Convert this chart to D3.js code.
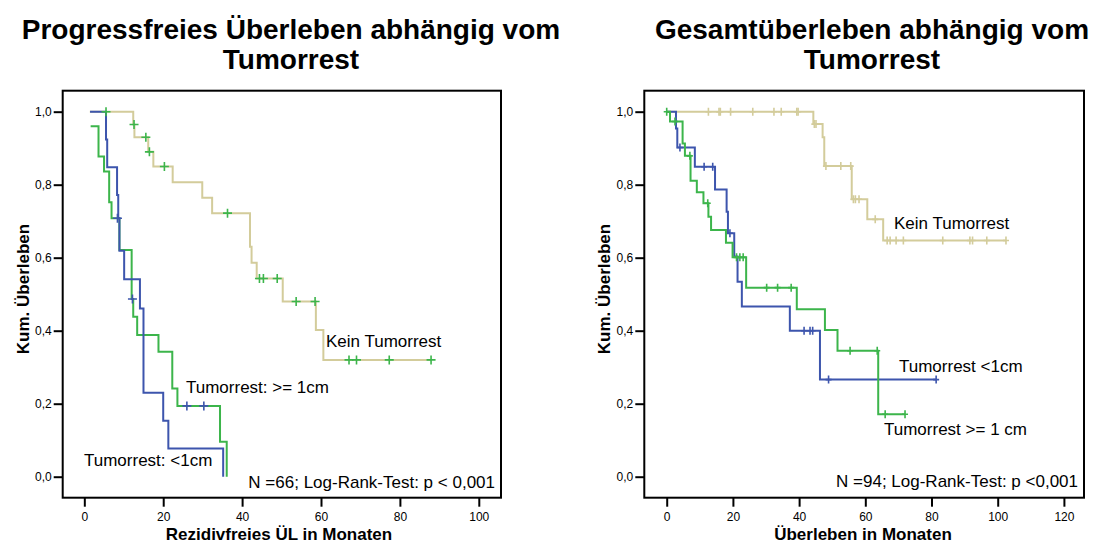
<!DOCTYPE html>
<html>
<head>
<meta charset="utf-8">
<script src="https://cdn.jsdelivr.net/npm/d3@7"></script>
<style>
  html, body { margin: 0; padding: 0; background: #fff; }
  svg { display: block; }
  text { font-family: "Liberation Sans", Arial, sans-serif; fill: #000; }
</style>
</head>
<body>
<svg id="chart" width="1093" height="544"></svg>
<script>
// Kaplan-Meier step points: [month, cumulative survival after that month]
// Progression-free survival by residual tumour
const pfsKeinSteps = [[1.4,1.0],[12.4,0.965],[12.7,0.93],[16.2,0.89],[17.5,0.85],[22.4,0.807],[29.9,0.764],[32.4,0.722],[42.0,0.63],[42.4,0.586],[43.7,0.543],[50.3,0.48],[58.7,0.402],[60.6,0.32],[87.9,0.32]];
const pfsKeinCensor = [[12.6,0.965],[15.6,0.93],[16.5,0.89],[20.3,0.85],[36.3,0.722],[44.4,0.543],[45.4,0.543],[48.9,0.543],[53.7,0.48],[58.5,0.48],[67.1,0.32],[69.0,0.32],[77.3,0.32],[87.9,0.32]];
const pfsSmallSteps = [[1.45,1.0],[5.5,0.924],[5.8,0.848],[8.3,0.772],[8.6,0.708],[8.9,0.619],[10.1,0.541],[14.1,0.461],[15.0,0.23],[20.0,0.153],[21.3,0.077],[35.2,0.0]];
const pfsSmallCensor = [[5.5,1.0]];
const pfsLargeSteps = [[1.6,0.96],[3.6,0.877],[5.0,0.836],[6.3,0.752],[6.9,0.708],[8.9,0.621],[12.0,0.487],[12.4,0.438],[13.4,0.388],[18.8,0.342],[22.3,0.242],[23.6,0.194],[34.4,0.096],[36.1,0.0]];
const pfsLargeCensor = [[8.4,0.708],[12.2,0.487],[26.0,0.194],[30.3,0.194]];

// Overall survival by residual tumour
const osKeinSteps = [[0,1.0],[44.3,0.966],[47.1,0.93],[47.6,0.851],[55.9,0.76],[60.6,0.705],[65.4,0.647],[102.5,0.647]];
const osKeinCensor = [[12.6,1],[15.8,1],[16.2,1],[19.3,1],[26.0,1],[32.4,1],[34.6,1],[39.3,1],[39.7,1],[44.6,0.966],[45.1,0.966],[48.1,0.851],[52.6,0.851],[55.6,0.851],[56.4,0.76],[57.0,0.76],[58.1,0.76],[63.0,0.705],[66.6,0.647],[67.5,0.647],[69.3,0.647],[71.5,0.647],[83.4,0.647],[91.6,0.647],[92.4,0.647],[96.7,0.647],[102.5,0.647]];
const osSmallSteps = [[0,1.0],[2.8,0.954],[3.2,0.902],[8.5,0.849],[14.6,0.787],[18.1,0.726],[18.5,0.667],[20.4,0.603],[21.4,0.534],[22.7,0.466],[37.2,0.4],[46.3,0.266],[81.4,0.266]];
const osSmallCensor = [[4.0,0.902],[11.3,0.849],[13.9,0.849],[19.1,0.667],[41.5,0.4],[43.3,0.4],[44.1,0.4],[48.9,0.266],[81.4,0.266]];
const osLargeSteps = [[0,1.0],[1.0,0.973],[4.8,0.913],[5.5,0.879],[7.2,0.811],[9.1,0.779],[11.1,0.749],[12.6,0.712],[13.4,0.676],[17.9,0.641],[19.9,0.601],[24.0,0.518],[39.3,0.459],[47.8,0.402],[51.6,0.345],[63.9,0.171],[72.0,0.171]];
const osLargeCensor = [[0,1.0],[2.5,0.973],[7.0,0.879],[12.4,0.749],[21.1,0.601],[22.1,0.601],[23.1,0.601],[30.2,0.518],[33.5,0.518],[37.6,0.518],[55.4,0.345],[63.6,0.345],[66.0,0.171],[72.0,0.171]];

// Axis ticks and texts
const yTicks = [0, 0.2, 0.4, 0.6, 0.8, 1.0];
const pfsXTicks = [0, 20, 40, 60, 80, 100];
const osXTicks = [0, 20, 40, 60, 80, 100, 120];
const titles = [["Progressfreies Überleben abhängig vom", "Tumorrest"], ["Gesamtüberleben abhängig vom", "Tumorrest"]];
const xTitles = ["Rezidivfreies ÜL in Monaten", "Überleben in Monaten"];
const yTitle = "Kum. Überleben";
const notes = ["N =66; Log-Rank-Test: p < 0,001", "N =94; Log-Rank-Test: p <0,001"];

const TAN = "#d3cc9b", BLUE = "#3d55ad", GREEN = "#3cb54b";

const svg = d3.select("#chart");
const fmtComma = d => d3.format(".1f")(d).replace(".", ",");

function panel(opt) {
  const x = d3.scaleLinear().domain(opt.xDomain).range([opt.left, opt.right]);
  const y = d3.scaleLinear().domain([-0.0575, 1.0575]).range([497.7, 90.7]);
  const g = svg.append("g");

  // title
  const cx = opt.titleX;
  opt.title.forEach((t, i) => {
    g.append("text").attr("x", cx).attr("y", 39 + i * 30)
      .attr("text-anchor", "middle").attr("font-size", 28).attr("font-weight", "bold").text(t);
  });

  // axes
  const ya = g.append("g").attr("transform", `translate(${opt.left},0)`)
    .call(d3.axisLeft(y).tickValues(yTicks).tickFormat(fmtComma).tickSize(9).tickPadding(2));
  const xa = g.append("g").attr("transform", `translate(0,497.7)`)
    .call(d3.axisBottom(x).tickValues(opt.xTicks).tickFormat(d3.format("d")).tickSize(9).tickPadding(6));
  [ya, xa].forEach(a => {
    a.select(".domain").remove();
    a.selectAll(".tick line").attr("stroke", "#000").attr("stroke-width", 2);
    a.selectAll(".tick text").attr("font-size", 12).attr("font-family", "'Liberation Sans', Arial, sans-serif").attr("fill", "#000");
  });

  // frame
  g.append("rect").attr("x", opt.left).attr("y", 90.7)
    .attr("width", opt.right - opt.left).attr("height", 497.7 - 90.7)
    .attr("fill", "none").attr("stroke", "#000").attr("stroke-width", 2);

  // axis titles
  g.append("text").attr("x", opt.xTitleX).attr("y", 540)
    .attr("text-anchor", "middle").attr("font-size", 17).attr("font-weight", "bold").text(opt.xTitle);
  g.append("text").attr("transform", `translate(${opt.left - 34},289) rotate(-90)`)
    .attr("text-anchor", "middle").attr("font-size", 17).attr("font-weight", "bold").text(yTitle);

  // survival curves
  const line = d3.line().x(d => x(d[0])).y(d => y(d[1])).curve(d3.curveStepAfter);
  opt.series.forEach(s => {
    g.append("path").datum(s.steps).attr("d", line)
      .attr("fill", "none").attr("stroke", s.color).attr("stroke-width", 2);
  });
  // censoring marks
  opt.series.forEach(s => {
    g.append("g").selectAll("path").data(s.censor).join("path")
      .attr("d", d => {
        const px = x(d[0]), py = y(d[1]), h = s.markH, w = s.markW;
        return `M${px - w},${py}H${px + w}M${px},${py - h}V${py + h}`;
      })
      .attr("fill", "none").attr("stroke", s.markColor).attr("stroke-width", 1.6);
  });

  // annotations
  opt.labels.forEach(l => {
    g.append("text").attr("x", l.x).attr("y", l.y).attr("font-size", 17).text(l.text);
  });
  g.append("text").attr("x", opt.right - 6).attr("y", opt.noteY)
    .attr("text-anchor", "end").attr("font-size", 17).text(opt.note);
}

panel({
  left: 62.7, right: 501, xDomain: [-5.48, 105.63], xTicks: pfsXTicks,
  title: titles[0], titleX: 291, xTitle: xTitles[0], xTitleX: 279,
  note: notes[0], noteY: 488,
  series: [
    { steps: pfsKeinSteps, censor: pfsKeinCensor, color: TAN, markColor: GREEN, markH: 4.5, markW: 4.5 },
    { steps: pfsLargeSteps, censor: pfsLargeCensor, color: GREEN, markColor: BLUE, markH: 4.5, markW: 4.5 },
    { steps: pfsSmallSteps, censor: pfsSmallCensor, color: BLUE, markColor: GREEN, markH: 4.5, markW: 4.5 }
  ],
  labels: [
    { x: 326, y: 347, text: "Kein Tumorrest" },
    { x: 186, y: 393, text: "Tumorrest: >= 1cm" },
    { x: 84, y: 466, text: "Tumorrest: <1cm" }
  ]
});

panel({
  left: 644.3, right: 1084, xDomain: [-6.77, 126.07], xTicks: osXTicks,
  title: titles[1], titleX: 872, xTitle: xTitles[1], xTitleX: 863,
  note: notes[1], noteY: 487,
  series: [
    { steps: osKeinSteps, censor: osKeinCensor, color: TAN, markColor: TAN, markH: 4, markW: 3 },
    { steps: osSmallSteps, censor: osSmallCensor, color: BLUE, markColor: BLUE, markH: 4, markW: 3 },
    { steps: osLargeSteps, censor: osLargeCensor, color: GREEN, markColor: GREEN, markH: 4, markW: 3 }
  ],
  labels: [
    { x: 894, y: 229, text: "Kein Tumorrest" },
    { x: 899, y: 372, text: "Tumorrest <1cm" },
    { x: 884, y: 435, text: "Tumorrest >= 1 cm" }
  ]
});
</script>
</body>
</html>
